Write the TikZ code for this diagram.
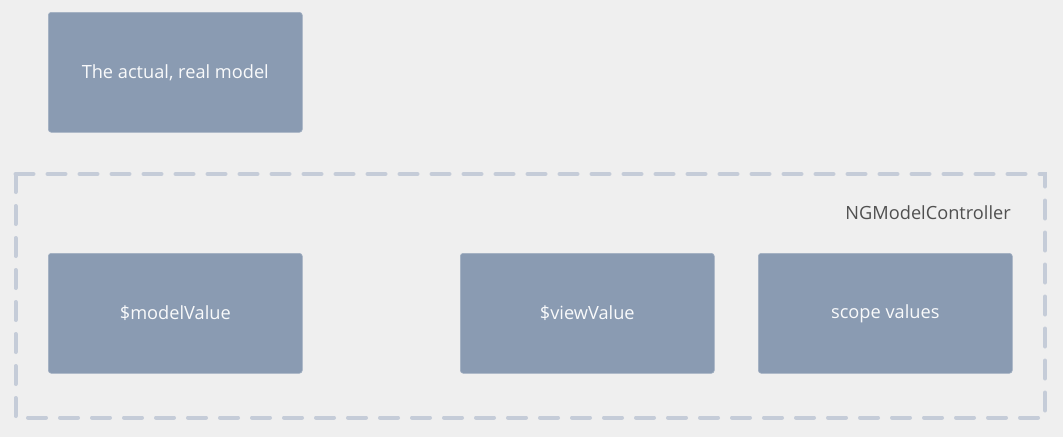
\documentclass[tikz,border=0pt]{standalone}
\usepackage{fontspec}
\setmainfont{Open Sans}
\definecolor{bgc}{HTML}{EFEFEF}
\definecolor{boxc}{HTML}{8A9BB2}
\definecolor{dashc}{HTML}{C5CCD8}
\definecolor{labc}{HTML}{505050}
\begin{document}
\begin{tikzpicture}[x=1pt,y=-1pt,
  bluebox/.style={fill=boxc,draw=boxc!80!white,line width=0.6pt,rounded corners=3pt,minimum width=254pt,minimum height=120pt,inner sep=0pt,anchor=north west,text=white!95!boxc,font=\fontsize{18.2}{21}\selectfont},
  group/.style={draw=dashc,line width=4pt,dash pattern=on 18pt off 14pt,line cap=round}]
\fill[bgc] (0,0) rectangle (1063,437);
\useasboundingbox (0,0) rectangle (1063,437);
\node[bluebox] (real) at (48,12) {\raisebox{-1.5pt}{The actual, real model}};
\coordinate (gtl) at (15.5,174);
\coordinate (gbr) at (1045,417.5);
\draw[group] (gtl) rectangle (gbr);
\node[anchor=east,text=labc,font=\fontsize{18.2}{21}\selectfont,inner sep=0pt] (ctrl) at (1011,213) {NGModelController};
\node[bluebox] (model) at (48,253) {\raisebox{-1.5pt}{\$modelValue}};
\node[bluebox] (view) at (460,253) {\raisebox{-1.5pt}{\$viewValue}};
\node[bluebox] (scope) at (758,253) {\raisebox{-1.5pt}{scope values}};
\end{tikzpicture}
\end{document}
